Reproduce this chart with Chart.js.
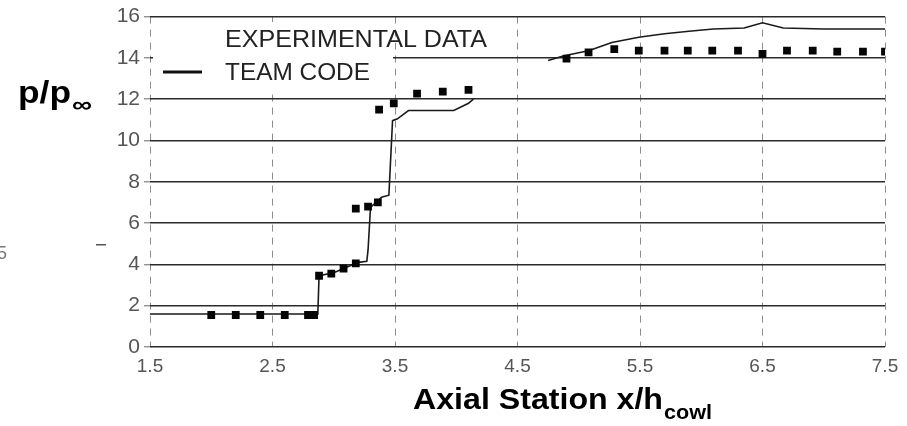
<!DOCTYPE html>
<html lang="en">
<head>
<meta charset="utf-8">
<title>p/p∞ vs Axial Station</title>
<script src="https://cdn.jsdelivr.net/npm/chart.js@4/dist/chart.umd.min.js"></script>
<style>
  html, body { margin: 0; padding: 0; background: #fff; }
  #wrap { width: 907px; height: 426px; }
</style>
</head>
<body>
<div id="wrap"><canvas id="chart" width="907" height="426"></canvas></div>
<script>
/* =========================
   DATA
========================= */
const expX = [2.0, 2.2, 2.4, 2.6, 2.79, 2.84, 2.88, 2.98, 3.08, 3.18, 3.18, 3.28, 3.36,
  3.37, 3.49, 3.68, 3.89, 4.1, 4.9, 5.08, 5.29, 5.49, 5.7, 5.89, 6.09, 6.3, 6.5,
  6.7, 6.91, 7.11, 7.32, 7.5];
const expY = [1.55, 1.55, 1.55, 1.55, 1.55, 1.55, 3.45, 3.55, 3.8, 4.05, 6.7, 6.8, 7.0,
  11.5, 11.8, 12.27, 12.37, 12.45, 13.96, 14.27, 14.43, 14.35, 14.35, 14.35, 14.35, 14.35, 14.2,
  14.35, 14.35, 14.3, 14.3, 14.3];

const codeX = [1.5, 2.87, 2.88, 3.0, 3.1, 3.2, 3.27, 3.28, 3.3, 3.39, 3.45, 3.48, 3.52,
  3.61, 3.98, 4.1, 4.14, 4.4, 4.75, 4.88, 5.08, 5.27, 5.49, 5.7, 5.92, 6.1, 6.35, 6.5,
  6.67, 7.0, 7.5];
const codeY = [1.6, 1.6, 3.45, 3.6, 3.85, 4.1, 4.15, 4.7, 6.76, 7.25, 7.35, 10.96, 11.05,
  11.45, 11.45, 11.8, 12.0, null, 13.87, 14.1, 14.35, 14.75, 15.0, 15.17, 15.3, 15.4, 15.45, 15.7,
  15.45, 15.4, 15.4];

const xTicks = [1.5, 2.5, 3.5, 4.5, 5.5, 6.5, 7.5];
const yTicks = [0, 2, 4, 6, 8, 10, 12, 14, 16];
const legendLabels = ["EXPERIMENTAL DATA", "TEAM CODE"];

/* =========================
   HELPERS
========================= */
function fitText(c, text, x, y, width) {
  const w = c.measureText(text).width;
  c.save();
  c.translate(x, y);
  c.scale(width / w, 1);
  c.fillText(text, 0, 0);
  c.restore();
}

/* =========================
   PAPER LOOK (legend + titles)
========================= */
const paperPlugin = {
  id: "paper",
  beforeDatasetsDraw(chart) {
    const c = chart.ctx;
    c.save();
    // legend box hides the grid behind it
    c.fillStyle = "#fff";
    c.fillRect(153, 22, 240, 71);

    c.fillStyle = "#222";
    c.textBaseline = "alphabetic";
    c.font = "24px 'Liberation Sans', Arial, sans-serif";
    fitText(c, legendLabels[0], 225, 47, 262);
    fitText(c, legendLabels[1], 225, 80, 145);

    c.strokeStyle = "#111";
    c.lineWidth = 3;
    c.beginPath();
    c.moveTo(163, 72);
    c.lineTo(202, 72);
    c.stroke();
    c.restore();
  },
  afterDraw(chart) {
    const c = chart.ctx;
    c.save();
    c.fillStyle = "#000";
    c.textBaseline = "alphabetic";

    // y title
    c.font = "bold 31px 'Liberation Sans', Arial, sans-serif";
    fitText(c, "p/p", 18, 103, 53);
    c.font = "bold 22px 'Liberation Sans', Arial, sans-serif";
    fitText(c, "∞", 72, 112, 20);

    // x title
    c.font = "bold 29px 'Liberation Sans', Arial, sans-serif";
    fitText(c, "Axial Station x/h", 413, 409, 250);
    c.font = "bold 21px 'Liberation Sans', Arial, sans-serif";
    fitText(c, "cowl", 664, 419, 48);

    // stray marks from the scan
    c.fillStyle = "#777";
    c.font = "18px 'Liberation Sans', Arial, sans-serif";
    c.fillText("5", -3, 259);
    c.fillStyle = "#555";
    c.fillRect(96, 244, 10, 1.5);
    c.restore();
  }
};

/* =========================
   CHART
========================= */
const canvas = document.getElementById("chart");
const fontFamily = "'Liberation Sans', Arial, sans-serif";

new Chart(canvas, {
  type: "scatter",
  data: {
    datasets: [
      {
        label: legendLabels[0],
        data: expX.map((x, i) => ({ x: x, y: expY[i] })),
        pointStyle: "rect",
        pointRadius: 5.5,
        backgroundColor: "#050505",
        borderColor: "#050505",
        borderWidth: 0,
        order: 1
      },
      {
        label: legendLabels[1],
        type: "line",
        data: codeX.map((x, i) => ({ x: x, y: codeY[i] })),
        borderColor: "#1a1a1a",
        borderWidth: 1.6,
        pointRadius: 0,
        spanGaps: false,
        tension: 0,
        order: 2
      }
    ]
  },
  options: {
    responsive: false,
    animation: false,
    devicePixelRatio: 1,
    layout: { padding: { top: 16, right: 22, left: 0, bottom: 0 } },
    plugins: {
      legend: { display: false },
      tooltip: { enabled: false }
    },
    scales: {
      x: {
        type: "linear",
        min: 1.5,
        max: 7.5,
        afterBuildTicks: s => { s.ticks = xTicks.map(v => ({ value: v })); },
        afterFit: s => { s.height = 79; },
        ticks: {
          font: { family: fontFamily, size: 19 },
          color: "#555",
          padding: 8,
          maxRotation: 0,
          callback: v => v.toFixed(1)
        },
        grid: { color: "#8c8c8c", lineWidth: 1, drawTicks: false },
        border: { display: false, dash: [7, 6] }
      },
      y: {
        type: "linear",
        min: 0,
        max: 16,
        afterBuildTicks: s => { s.ticks = yTicks.map(v => ({ value: v })); },
        afterFit: s => { s.width = 150; },
        ticks: {
          font: { family: fontFamily, size: 21 },
          color: "#555",
          padding: 4
        },
        grid: {
          color: "#2a2a2a",
          lineWidth: 1.6,
          drawTicks: true,
          tickLength: 6,
          tickColor: "#666",
          tickWidth: 1
        },
        border: { display: false }
      }
    }
  },
  plugins: [paperPlugin]
});
</script>
</body>
</html>
